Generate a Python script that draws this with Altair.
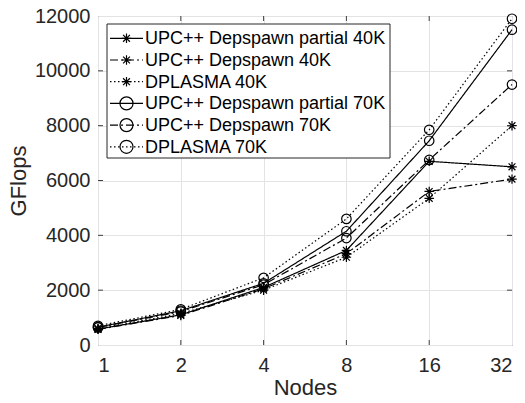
import altair as alt
import pandas as pd

nodes = [1, 2, 4, 8, 16, 32]
names = [
    "UPC++ Depspawn partial 40K",
    "UPC++ Depspawn 40K",
    "DPLASMA 40K",
    "UPC++ Depspawn partial 70K",
    "UPC++ Depspawn 70K",
    "DPLASMA 70K",
]
partial40 = [580, 1100, 2100, 3450, 6700, 6500]
upc40 = [570, 1080, 2050, 3330, 5600, 6050]
dpl40 = [600, 1150, 2000, 3200, 5350, 8000]
partial70 = [650, 1250, 2250, 4150, 7450, 11500]
upc70 = [640, 1220, 2200, 3900, 6750, 9500]
dpl70 = [700, 1300, 2450, 4600, 7850, 11900]
series_vals = [partial40, upc40, dpl40, partial70, upc70, dpl70]
y_ticks = [0, 2000, 4000, 6000, 8000, 10000, 12000]

rows = []
for n, vals in zip(names, series_vals):
    for x, y in zip(nodes, vals):
        rows.append({"series": n, "nodes": x, "gflops": y})
df = pd.DataFrame(rows)

STAR = "M-1,0L1,0M0,-1L0,1M-0.72,-0.72L0.72,0.72M-0.72,0.72L0.72,-0.72"
SOLID = [1, 0]
DASHDOT = [8, 3, 2, 3]
DOT = [1.5, 2.5]
dashes = [SOLID, DASHDOT, DOT, SOLID, DASHDOT, DOT]
shapes = [STAR, STAR, STAR, "circle", "circle", "circle"]
sizes = [90, 90, 90, 170, 170, 170]

W, H = 414, 329
FONT = "Liberation Sans"
TXT = "#262626"

xs = alt.Scale(type="log", base=2, domain=[1, 32])
ys = alt.Scale(domain=[0, 12000])

base = alt.Chart(df)
lines = base.mark_line(color="black", strokeWidth=1.2).encode(
    x=alt.X("nodes:Q", scale=xs, title="Nodes",
            axis=alt.Axis(values=nodes, format="d", grid=True)),
    y=alt.Y("gflops:Q", scale=ys, title="GFlops",
            axis=alt.Axis(values=y_ticks, format="d", grid=True)),
    strokeDash=alt.StrokeDash("series:N", scale=alt.Scale(domain=names, range=dashes), legend=None),
    detail="series:N",
)
points = base.mark_point(color="black", filled=False, strokeWidth=1.2, opacity=1).encode(
    x=alt.X("nodes:Q", scale=xs),
    y=alt.Y("gflops:Q", scale=ys),
    shape=alt.Shape("series:N", scale=alt.Scale(domain=names, range=shapes), legend=None),
    size=alt.Size("series:N", scale=alt.Scale(domain=names, range=sizes), legend=None),
)

# inward tick marks on all four sides
xt = pd.DataFrame({"nodes": nodes[1:-1]})
yt = pd.DataFrame({"gflops": y_ticks[1:-1]})
tick_col = "#404040"
tb = alt.Chart(xt).mark_rule(color=tick_col).encode(x=alt.X("nodes:Q", scale=xs), y=alt.value(H), y2=alt.value(H - 5))
tt = alt.Chart(xt).mark_rule(color=tick_col).encode(x=alt.X("nodes:Q", scale=xs), y=alt.value(0), y2=alt.value(5))
tl = alt.Chart(yt).mark_rule(color=tick_col).encode(y=alt.Y("gflops:Q", scale=ys), x=alt.value(0), x2=alt.value(5))
tr = alt.Chart(yt).mark_rule(color=tick_col).encode(y=alt.Y("gflops:Q", scale=ys), x=alt.value(W), x2=alt.value(W - 5))

# manual legend
one = pd.DataFrame({"k": [0]})
lx0, lx1, ly0, ly1 = 9, 292, 8, 142
legend_layers = [
    alt.Chart(one).mark_rect(fill="white", stroke="#262626", strokeWidth=1).encode(
        x=alt.value(lx0), x2=alt.value(lx1), y=alt.value(ly0), y2=alt.value(ly1))
]
for i, n in enumerate(names):
    yy = 22.3 + i * 21.7
    legend_layers.append(
        alt.Chart(one).mark_rule(color="black", strokeWidth=1.2, strokeDash=dashes[i]).encode(
            x=alt.value(12), x2=alt.value(45), y=alt.value(yy)))
    legend_layers.append(
        alt.Chart(one).mark_point(color="black", filled=False, strokeWidth=1.2, opacity=1,
                                  shape=shapes[i], size=sizes[i]).encode(
            x=alt.value(28.5), y=alt.value(yy)))
    legend_layers.append(
        alt.Chart(one).mark_text(text=n, align="left", baseline="middle", font=FONT,
                                 fontSize=18, color="black").encode(
            x=alt.value(47), y=alt.value(yy + 1)))

chart = alt.layer(lines, points, tb, tt, tl, tr, *legend_layers).properties(
    width=W, height=H,
    autosize=alt.AutoSizeParams(type="none"),
    padding={"left": 90, "top": 8, "right": 5, "bottom": 50},
).configure_view(stroke="#555555", strokeWidth=1).configure_axis(
    domain=False, ticks=False, gridColor="#e3e3e3", gridWidth=1,
    labelFont=FONT, labelFontSize=20, labelColor=TXT,
    titleFont=FONT, titleFontSize=22, titleColor=TXT, titleFontWeight="normal",
).configure_axisX(labelPadding=10, titlePadding=2).configure_axisY(labelPadding=8, titlePadding=4)

chart.save("out.html", embed_options={"renderer": "svg", "actions": False})
